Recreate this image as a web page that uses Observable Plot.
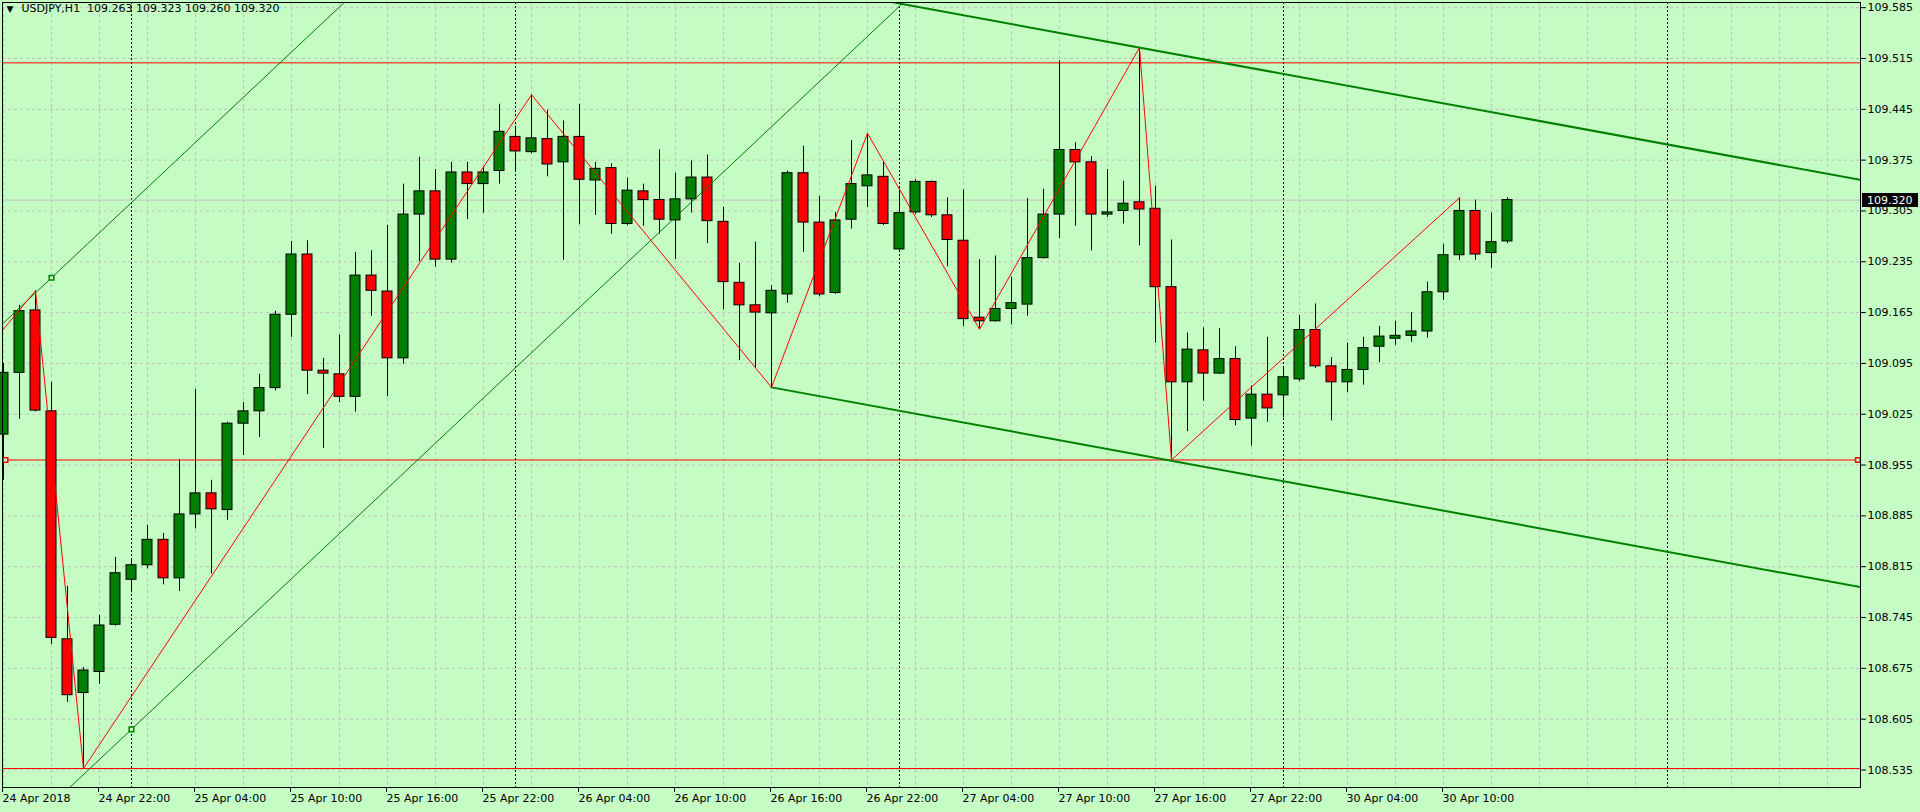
<!DOCTYPE html>
<html><head><meta charset="utf-8">
<script src="https://cdn.jsdelivr.net/npm/d3@7"></script>
<script src="https://cdn.jsdelivr.net/npm/@observablehq/plot@0.6"></script>
<style>html,body{margin:0;padding:0;background:#C4FCC4;overflow:hidden}</style>
</head><body><div id="chart"></div>
<script>
// ---- data (hourly bars, index 0 = 24 Apr 2018 16:00) ----
const symbolLabel = "USDJPY,H1";
const opens  = [108.997,109.082,109.168,109.029,108.715,108.641,108.670,108.735,108.797,108.817,
                108.852,108.799,108.887,108.916,108.893,109.012,109.029,109.061,109.162,109.245,
                109.085,109.080,109.049,109.216,109.194,109.102,109.300,109.332,109.238,109.358,
                109.342,109.360,109.407,109.386,109.404,109.372,109.407,109.347,109.364,109.287,
                109.332,109.320,109.292,109.321,109.351,109.290,109.206,109.175,109.164,109.190,
                109.357,109.289,109.192,109.293,109.339,109.352,109.252,109.303,109.345,109.299,
                109.264,109.158,109.153,109.170,109.176,109.240,109.300,109.389,109.372,109.300,
                109.305,109.317,109.308,109.200,109.069,109.113,109.081,109.101,109.019,109.052,
                109.051,109.073,109.141,109.091,109.069,109.086,109.118,109.129,109.133,109.139,
                109.193,109.244,109.305,109.247,109.263];
const highs  = [109.095,109.175,109.195,109.069,108.788,108.676,108.748,108.828,108.825,108.872,
                108.861,108.962,109.059,108.934,109.014,109.041,109.080,109.167,109.263,109.264,
                109.102,109.134,109.248,109.250,109.285,109.342,109.379,109.362,109.372,109.372,
                109.366,109.452,109.422,109.465,109.444,109.429,109.452,109.372,109.370,109.350,
                109.342,109.389,109.357,109.374,109.382,109.310,109.233,109.262,109.202,109.360,
                109.394,109.325,109.303,109.402,109.412,109.372,109.335,109.348,109.346,109.323,
                109.334,109.238,109.243,109.214,109.322,109.335,109.512,109.399,109.380,109.362,
                109.346,109.530,109.339,109.265,109.137,109.144,109.143,109.118,109.064,109.131,
                109.089,109.161,109.177,109.103,109.123,109.131,109.146,109.153,109.165,109.207,
                109.259,109.323,109.320,109.302,109.323];
const lows   = [108.934,109.018,109.028,108.708,108.628,108.537,108.653,108.733,108.779,108.812,
                108.790,108.781,108.867,108.805,108.879,108.968,108.993,109.057,109.131,109.052,
                108.978,109.041,109.028,109.160,109.049,109.094,109.235,109.228,109.233,109.293,
                109.302,109.342,109.358,109.384,109.352,109.237,109.286,109.299,109.273,109.285,
                109.284,109.273,109.238,109.302,109.260,109.169,109.099,109.088,109.062,109.178,
                109.248,109.187,109.190,109.280,109.310,109.285,109.251,109.300,109.296,109.228,
                109.146,109.142,109.152,109.148,109.160,109.239,109.267,109.284,109.250,109.296,
                109.287,109.257,109.123,108.962,109.001,109.043,109.080,109.009,108.981,109.014,
                109.020,109.070,109.088,109.016,109.055,109.065,109.096,109.120,109.124,109.130,
                109.182,109.237,109.237,109.226,109.260];
const closes = [109.082,109.167,109.030,108.717,108.638,108.672,108.734,108.806,108.817,108.852,
                108.799,108.887,108.916,108.894,109.012,109.029,109.061,109.162,109.245,109.085,
                109.081,109.049,109.216,109.195,109.102,109.300,109.332,109.238,109.358,109.342,
                109.358,109.414,109.387,109.405,109.369,109.407,109.348,109.363,109.287,109.333,
                109.320,109.293,109.321,109.351,109.291,109.207,109.175,109.165,109.195,109.357,
                109.289,109.190,109.292,109.342,109.354,109.287,109.302,109.345,109.299,109.265,
                109.156,109.153,109.170,109.178,109.240,109.300,109.389,109.372,109.300,109.303,
                109.315,109.307,109.200,109.069,109.114,109.081,109.101,109.017,109.052,109.033,
                109.076,109.141,109.091,109.069,109.086,109.116,109.132,109.133,109.139,109.193,
                109.244,109.305,109.245,109.262,109.320];

const xTickBars   = [0,6,12,18,24,30,36,42,48,54,60,66,72,78,84,90];
const xTickLabels = ["24 Apr 2018","24 Apr 22:00","25 Apr 04:00","25 Apr 10:00","25 Apr 16:00",
                     "25 Apr 22:00","26 Apr 04:00","26 Apr 10:00","26 Apr 16:00","26 Apr 22:00",
                     "27 Apr 04:00","27 Apr 10:00","27 Apr 16:00","27 Apr 22:00","30 Apr 04:00","30 Apr 10:00"];
const yTicks = [109.585,109.515,109.445,109.375,109.305,109.235,109.165,109.095,
                109.025,108.955,108.885,108.815,108.745,108.675,108.605,108.535];
const gridBars = [0,3,6,9,12,15,18,21,24,27,30,33,36,39,42,45,48,51,54,57,60,63,66,69,72,75,
                  78,81,84,87,90,93,96,99,102,105,108,111,114];
const daySeparatorBars = [8,32,56,80,104];
const levelPrices = [109.509,108.962,108.537];
const currentPrice = 109.320;

const zigzagBars   = [-1,2,5,33,48,54,61,71,73,91];
const zigzagPrices = [109.116,109.195,108.537,109.465,109.062,109.412,109.142,109.530,108.962,109.323];

const thinUpperBars = [-1,25],  thinUpperPrices = [109.130,109.669];
const thinLowerBars = [0,60],   thinLowerPrices = [108.425,109.670];
const thickUpperBars = [50,117], thickUpperPrices = [109.615,109.344];
const thickLowerBars = [48,117], thickLowerPrices = [109.062,108.783];
const greenAnchorBars = [3,8],   greenAnchorPrices = [109.213,108.591];
const redAnchorBars = [0.125,115.9], redAnchorPrices = [108.962,108.962];

// ---- tables ----
const candles = opens.map((o, i) => ({i, open: o, high: highs[i], low: lows[i], close: closes[i]}));
const pts = (bars, prices) => bars.map((b, k) => ({i: b, p: prices[k]}));
const labelOf = new Map(xTickBars.map((b, k) => [b, xTickLabels[k]]));

const BG = "#C4FCC4", GREEN = "#008000", RED = "#FF0000", GRID = "#C0C0C0";
const W = 1920, H = 812, mL = 2, mR = 60, mT = 2, mB = 25;
const half = 5 / 16;

const chart = Plot.plot({
  width: W, height: H,
  marginLeft: mL, marginRight: mR, marginTop: mT, marginBottom: mB,
  style: {background: BG, fontFamily: "DejaVu Sans", fontSize: "11px", color: "black"},
  x: {type: "linear", domain: [(mL - 3) / 16, (W - mR - 3) / 16]},
  y: {type: "linear", domain: [108.51087, 109.59213]},
  marks: [
    Plot.ruleY(yTicks, {stroke: GRID, strokeDasharray: "3,3"}),
    Plot.ruleX(gridBars, {stroke: GRID, strokeDasharray: "3,3"}),
    Plot.ruleX(daySeparatorBars, {stroke: "black", strokeDasharray: "2,2"}),
    Plot.ruleY([currentPrice], {stroke: GRID}),
    Plot.ruleY(levelPrices, {stroke: RED}),
    Plot.ruleX(candles, {x: "i", y1: "low", y2: "high", stroke: "black"}),
    Plot.rect(candles, {x1: d => d.i - half, x2: d => d.i + half, y1: "open", y2: "close",
      fill: d => d.close >= d.open ? GREEN : RED, stroke: "black"}),
    Plot.line(pts(thinUpperBars, thinUpperPrices), {x: "i", y: "p", stroke: GREEN, strokeWidth: 1, clip: true}),
    Plot.line(pts(thinLowerBars, thinLowerPrices), {x: "i", y: "p", stroke: GREEN, strokeWidth: 1, clip: true}),
    Plot.line(pts(thickUpperBars, thickUpperPrices), {x: "i", y: "p", stroke: GREEN, strokeWidth: 2, clip: true}),
    Plot.line(pts(thickLowerBars, thickLowerPrices), {x: "i", y: "p", stroke: GREEN, strokeWidth: 2, clip: true}),
    Plot.line(pts(zigzagBars, zigzagPrices), {x: "i", y: "p", stroke: RED, strokeWidth: 1, clip: true}),
    Plot.dot(pts(greenAnchorBars, greenAnchorPrices), {x: "i", y: "p", symbol: "square", r: 2.6, stroke: GREEN, fill: BG}),
    Plot.dot(pts(redAnchorBars, redAnchorPrices), {x: "i", y: "p", symbol: "square", r: 2.6, stroke: RED, fill: BG}),
    Plot.frame({stroke: "black"}),
    Plot.axisX(xTickBars, {anchor: "bottom", tickSize: 5, tickPadding: 2, textAnchor: "start", dx: -1,
      tickFormat: d => labelOf.get(d), fontSize: 11, label: null}),
    Plot.axisY(yTicks, {anchor: "right", tickSize: 5, tickPadding: 2, tickFormat: d3.format(".3f"),
      fontSize: 11, label: null}),
    Plot.text(["\u25BC"], {frameAnchor: "top-left", dx: 4, dy: 3, lineAnchor: "top", textAnchor: "start", fontSize: 9}),
    Plot.text([symbolLabel + "\u00A0\u00A0" + [opens.at(-1), highs.at(-1), lows.at(-1), closes.at(-1)].map(d3.format(".3f")).join(" ")],
      {frameAnchor: "top-left", dx: 19, dy: 2, lineAnchor: "top", textAnchor: "start", fontSize: 11})
  ]
});

// current price box on the price axis, positioned through the plot's y scale
const ys = chart.scale("y");
const yPix = ys.apply ? ys.apply(currentPrice)
  : ys.range[0] + (currentPrice - ys.domain[0]) / (ys.domain[1] - ys.domain[0]) * (ys.range[1] - ys.range[0]);
const svg = d3.select(chart.tagName === "svg" ? chart : chart.querySelector("svg"));
svg.append("rect").attr("x", W - mR + 2).attr("y", Math.round(yPix) - 7).attr("width", 56).attr("height", 14).attr("fill", "black");
svg.append("text").attr("x", W - mR + 7).attr("y", Math.round(yPix)).attr("dy", "0.35em")
  .attr("text-anchor", "start").attr("fill", "white")
  .attr("font-family", "DejaVu Sans").attr("font-size", 11).text(d3.format(".3f")(currentPrice));

document.getElementById("chart").appendChild(chart);
</script></body></html>
